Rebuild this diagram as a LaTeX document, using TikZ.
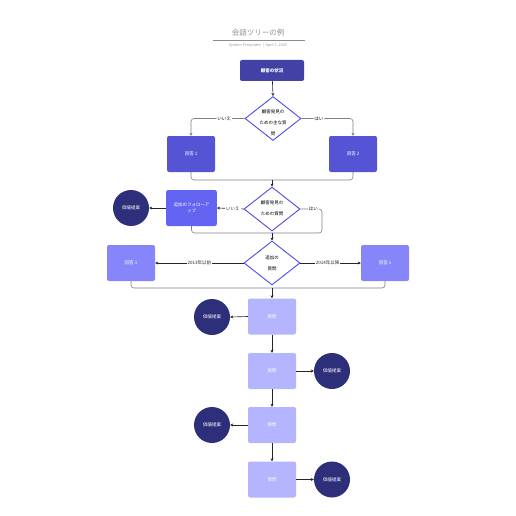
\documentclass[tikz,border=0pt]{standalone}
\usepackage{fontspec}
\setmainfont{Noto Sans CJK JP}
\usetikzlibrary{shapes.geometric,arrows.meta}
\definecolor{topblue}{HTML}{4242A6}
\definecolor{ansblue}{HTML}{5454D4}
\definecolor{folblue}{HTML}{6464F2}
\definecolor{litblue}{HTML}{8686FA}
\definecolor{qblue}{HTML}{B4B4FF}
\definecolor{navy}{HTML}{2E2F7B}
\definecolor{edge}{HTML}{4B4BE6}
\begin{document}
\begin{tikzpicture}[x=1pt,y=-1pt,>={Stealth[length=3pt,width=3pt]},
  box/.style={rounded corners=2pt,minimum width=48pt,minimum height=36pt,text=white,font=\fontsize{4.5}{6}\selectfont},
  ques/.style={diamond,draw=edge,line width=0.9pt,fill=white,minimum width=56pt,minimum height=44pt,inner sep=0pt},
  qtext/.style={align=center,font=\fontsize{4.5}{11}\selectfont},
  prop/.style={circle,fill=navy,minimum size=36pt,inner sep=0pt,text=white,font=\fontsize{4.5}{6}\selectfont},
  lbl/.style={fill=white,inner sep=1pt,font=\fontsize{4.5}{6}\selectfont},
  arr/.style={->,black!85,line width=0.6pt},
  branch/.style={black!50,line width=0.6pt,rounded corners=3pt}]
\useasboundingbox (0,0) rectangle (516,516);
% title
\node[text=black!45,font=\fontsize{7.5}{9}\selectfont] (title) at (258,33) {会話ツリーの例};
\draw[black!45,line width=0.5pt] (213,40) -- (305,40);
\node[text=black!40,font=\fontsize{3.8}{5}\selectfont] (sub) at (258,45) {System Templates \ | \ April 3, 2025};
% first question
\node[box,fill=topblue,minimum width=64pt,minimum height=21pt,font=\bfseries\fontsize{4.5}{6}\selectfont] (t0) at (272,70.5) {顧客の状況};
\node[ques] (d1) at (273,118.5) {};
\node[qtext] at (273,123) {顧客発見の\\ための主な質\\問};
\node[box,fill=ansblue] (a1) at (191,154) {回答 1};
\node[box,fill=ansblue] (a2) at (353,154) {回答 2};
\draw[arr] (t0) -- (d1.north);
\draw[branch,->] (d1.west) -| node[lbl,pos=0.19,text=black] {いいえ} (a1.north);
\draw[branch,->] (d1.east) -| node[lbl,pos=0.17,text=black] {はい} (a2.north);
\coordinate (j1) at (272,180);
\draw[branch] (a1.south) |- (j1) -| (a2.south);
% second question
\node[ques] (d2) at (272,209) {};
\node[qtext] at (272,208.5) {顧客発見の\\ための質問};
\node[box,fill=folblue,align=center,text width=44pt] (f1) at (191.5,208) {追加のフォローア\\ップ};
\node[prop] (c1) at (131,208) {価値提案};
\draw[arr] (j1) -- (d2.north);
\draw[arr] (d2.west) -- node[lbl,pos=0.4] {いいえ} (f1.east);
\draw[arr] (f1.west) -- (c1.east);
\coordinate (k2) at (322,233);
\draw[branch] (d2.east) -| node[lbl,pos=0.3,text=black] {はい} (k2) -| (f1.south);
% third question
\coordinate (j2) at (272,233);
\node[ques] (d3) at (272,263) {};
\node[qtext] at (272,263.5) {追加の\\質問};
\node[box,fill=litblue] (b1) at (131,263) {回答 1};
\node[box,fill=litblue] (b2) at (385,263) {回答 1};
\draw[arr] (j2) -- (d3.north);
\draw[arr] (d3.west) -- node[lbl] {2013年以前} (b1.east);
\draw[arr] (d3.east) -- node[lbl,pos=0.45] {2014年以降} (b2.west);
\coordinate (j3) at (272,288);
\draw[branch] (b1.south) |- (j3) -| (b2.south);
% question chain
\node[box,fill=qblue] (q1) at (272,316.5) {質問};
\node[box,fill=qblue] (q2) at (272,371) {質問};
\node[box,fill=qblue] (q3) at (272,425) {質問};
\node[box,fill=qblue] (q4) at (272,479.5) {質問};
\node[prop] (c2) at (212,317) {価値提案};
\node[prop] (c3) at (332,371) {価値提案};
\node[prop] (c4) at (212,425) {価値提案};
\node[prop] (c5) at (332,479.5) {価値提案};
\draw[arr] (j3) -- (q1.north);
\draw[arr] (q1) -- (q2);
\draw[arr] (q2) -- (q3);
\draw[arr] (q3) -- (q4);
\draw[arr] (q1.west) -- (c2.east);
\draw[arr] (q2.east) -- (c3.west);
\draw[arr] (q3.west) -- (c4.east);
\draw[arr] (q4.east) -- (c5.west);
\end{tikzpicture}
\end{document}
